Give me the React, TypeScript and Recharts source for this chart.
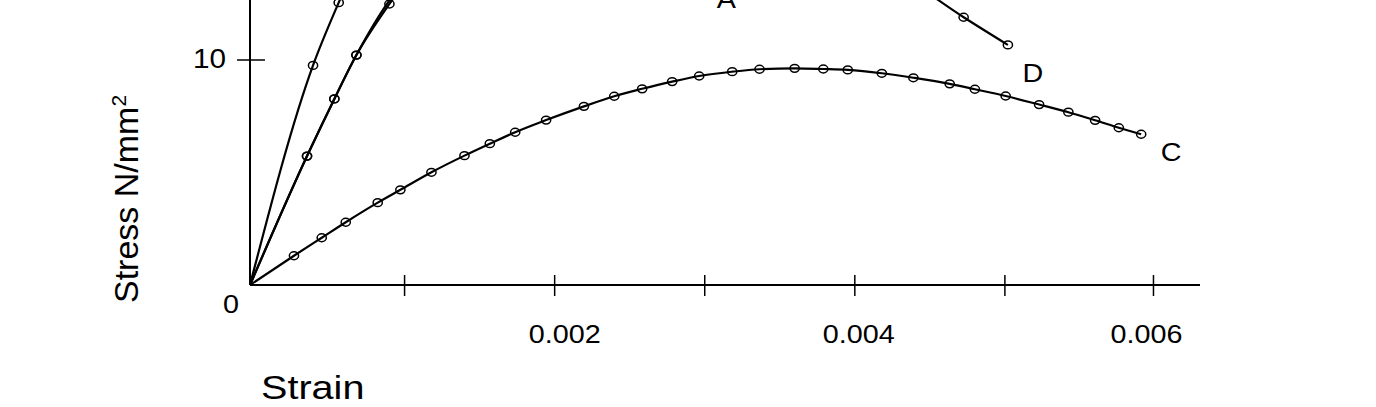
import React from 'react';
import { LineChart, Line, XAxis, YAxis, Label } from 'recharts';

// strain / stress readings per specimen (values above ~12.7 N/mm2 are off the crop, estimated)
const strainA = [0, 0.00042, 0.000591, 0.0008, 0.0011, 0.0015, 0.002, 0.0025, 0.003];
const stressA = [0, 9.76, 12.55, 15.6, 18.8, 20.8, 20.3, 17.6, 14.0];

const strainB = [0, 0.00038, 0.000562, 0.000709, 0.000929, 0.0012, 0.0016, 0.0021, 0.0027, 0.0033, 0.0038];
const stressB = [0, 5.73, 8.27, 10.22, 12.49, 14.8, 16.9, 17.9, 17.8, 17.0, 16.0];

const strainD = [0, 0.00038, 0.000562, 0.000709, 0.00098, 0.0013, 0.0018, 0.0025, 0.0032, 0.0038, 0.0043, 0.004755, 0.00505];
const stressD = [0, 5.73, 8.27, 10.22, 13.1, 14.8, 16.0, 16.5, 16.2, 15.3, 13.9, 11.9, 10.67];

const strainC = [
  0, 0.000293, 0.000478, 0.000638, 0.000851, 0.001002, 0.001209, 0.001429, 0.001598, 0.001767,
  0.001973, 0.002225, 0.002427, 0.002613, 0.002813, 0.002993, 0.003213, 0.003395, 0.003629, 0.00382,
  0.003983, 0.00421, 0.00442, 0.004662, 0.00483, 0.005035, 0.005258, 0.005453, 0.005631, 0.005789, 0.005938,
];
const stressC = [
  0, 1.3, 2.1, 2.79, 3.66, 4.23, 5.01, 5.75, 6.28, 6.79,
  7.33, 7.94, 8.39, 8.72, 9.04, 9.29, 9.48, 9.59, 9.63, 9.6,
  9.56, 9.41, 9.21, 8.94, 8.7, 8.4, 8.02, 7.68, 7.32, 6.99, 6.7,
];

// tick marks sit slightly right of the nominal values in the original drawing
const xTicks = [0.00103, 0.00203, 0.00303, 0.00403, 0.00503, 0.00602];
const xTickLabels = ['', '0.002', '', '0.004', '', '0.006'];
const yTicks = [0, 10];
const yTickLabels = ['0', '10'];

// label nudges (px) so the tick texts land where the original put them
const xLabelShift = [0, 10, 0, 4, 0, -7];

const toPoints = (xs: number[], ys: number[]) => xs.map((x, i) => ({ x, y: ys[i] }));

const FONT = '"Liberation Sans", Arial, Helvetica, sans-serif';

const Marker = (props: any) => {
  const { cx, cy, index } = props;
  if (index === 0 || cx == null || cy == null) return <g key={`m-${index}`} />;
  return (
    <ellipse key={`m-${index}`} cx={cx} cy={cy} rx={4.6} ry={3.9}
      fill="none" stroke="#000" strokeWidth={1.5} />
  );
};

const XTick = (props: any) => {
  const { x, y, index } = props;
  const label = xTickLabels[index];
  return (
    <g>
      <line x1={x} x2={x} y1={y - 10} y2={y + 11} stroke="#000" strokeWidth={1.5} />
      {label && (
        <text transform={`translate(${x + xLabelShift[index]},${y + 58}) scale(1.15,1)`} textAnchor="middle"
          fontSize={25} fontFamily={FONT} fill="#000">{label}</text>
      )}
    </g>
  );
};

const YTick = (props: any) => {
  const { x, y, index } = props;
  if (index === 0) {
    return (
      <text transform={`translate(${x - 19},${y + 28}) scale(1.15,1)`} textAnchor="middle"
        fontSize={25} fontFamily={FONT} fill="#000">{yTickLabels[index]}</text>
    );
  }
  return (
    <g>
      <line x1={x - 13} x2={x + 15} y1={y} y2={y} stroke="#000" strokeWidth={1.5} />
      <text transform={`translate(${x - 24},${y + 8}) scale(1.1,1)`} textAnchor="end"
        fontSize={27} fontFamily={FONT} fill="#000">{yTickLabels[index]}</text>
    </g>
  );
};

const endLabel = (name: string, count: number, dx: number, dy: number) => (props: any) => {
  const { x, y, index } = props;
  if (index !== count - 1) return null;
  return (
    <text key={`lbl-${name}`} transform={`translate(${x + dx},${y + dy}) scale(1.15,1)`}
      textAnchor="middle" fontSize={25} fontFamily={FONT} fill="#000">{name}</text>
  );
};

const series = [
  { name: 'A', data: toPoints(strainA, stressA), dx: 26, dy: 38, showLabel: true },
  { name: 'B', data: toPoints(strainB, stressB), dx: 26, dy: 38, showLabel: false },
  { name: 'D', data: toPoints(strainD, stressD), dx: 25, dy: 37, showLabel: true },
  { name: 'C', data: toPoints(strainC, stressC), dx: 30, dy: 27, showLabel: true },
];

export default function App() {
  return (
    <div style={{ position: 'fixed', left: 0, top: 0, width: 1376, height: 407, overflow: 'hidden', background: '#fff' }}>
      <div style={{ position: 'absolute', left: 0, top: -260 }}>
        <LineChart width={1376} height={665} margin={{ top: 5, right: 176, bottom: 90, left: 190 }}>
          <XAxis type="number" dataKey="x" domain={[0, 0.00633]} ticks={xTicks} interval={0}
            height={30} tickSize={0} tickMargin={0} tick={XTick} allowDataOverflow
            axisLine={{ stroke: '#000', strokeWidth: 2 }} tickLine={false}>
            <Label content={(p: any) => {
              const vb = p.viewBox;
              return (
                <text transform={`translate(${vb.x + 11},${vb.y + 114}) scale(1.2,1)`}
                  fontSize={33} fontFamily={FONT} fill="#000">Strain</text>
              );
            }} />
          </XAxis>
          <YAxis type="number" dataKey="y" domain={[0, 24]} ticks={yTicks} interval={0}
            width={60} tickSize={0} tickMargin={0} tick={YTick} allowDataOverflow
            axisLine={{ stroke: '#000', strokeWidth: 2 }} tickLine={false}>
            <Label content={(p: any) => {
              const vb = p.viewBox;
              const tx = vb.x + vb.width - 112;
              const ty = vb.y + vb.height + 18;
              return (
                <text transform={`rotate(-90,${tx},${ty})`} x={tx} y={ty}
                  fontSize={34} fontFamily={FONT} fill="#000">
                  Stress N/mm<tspan dy={-12} fontSize={21}>2</tspan>
                </text>
              );
            }} />
          </YAxis>
          {series.map((s) => (
            <Line key={s.name} data={s.data} dataKey="y" type="monotone" stroke="#000"
              strokeWidth={2.2} dot={Marker} activeDot={false} isAnimationActive={false}
              label={s.showLabel ? endLabel(s.name, s.data.length, s.dx, s.dy) : false} />
          ))}
        </LineChart>
      </div>
    </div>
  );
}
